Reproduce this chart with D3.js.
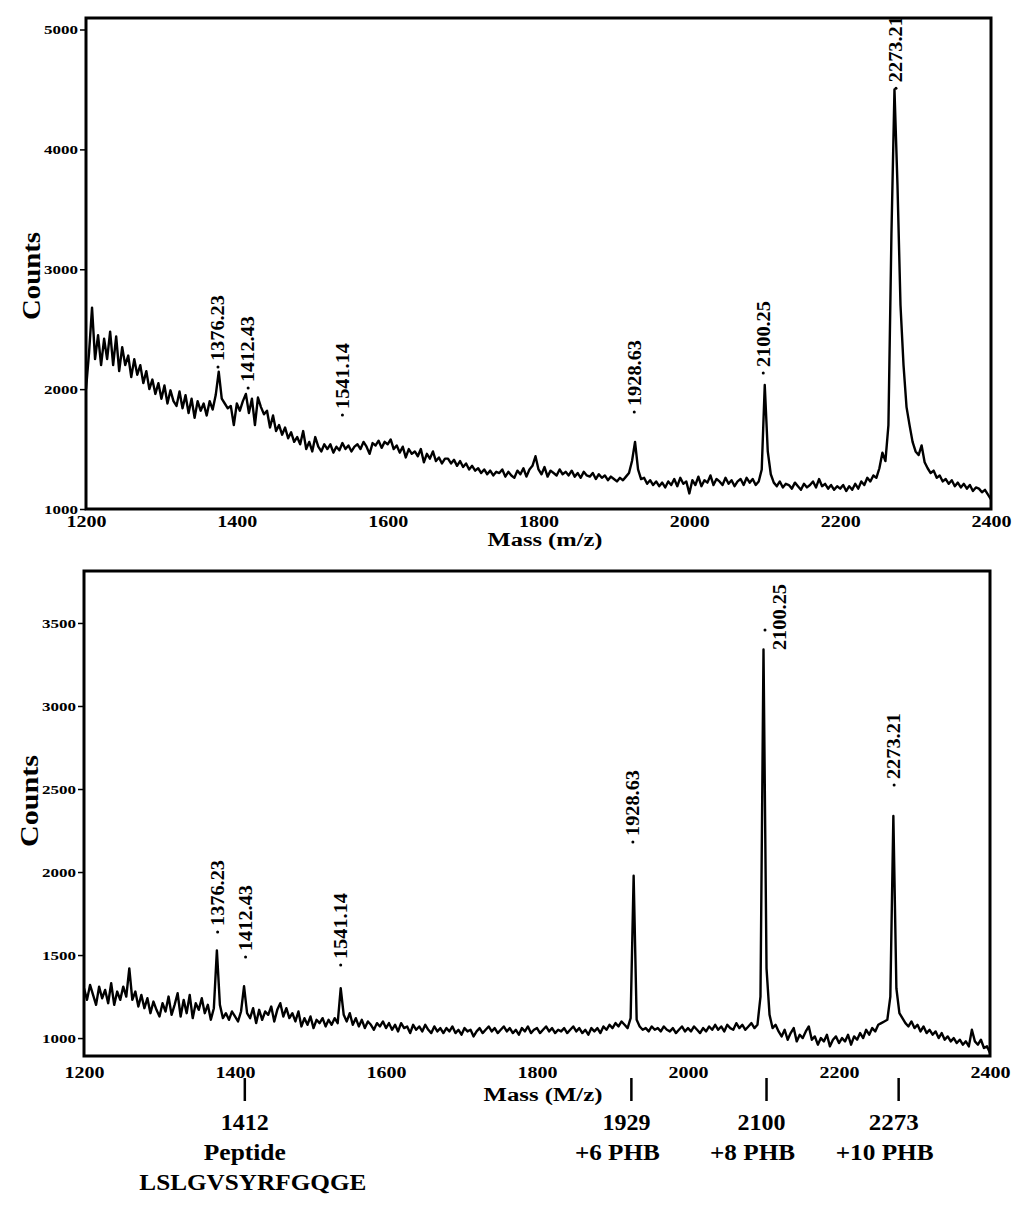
<!DOCTYPE html>
<html>
<head>
<meta charset="utf-8">
<script src="https://cdn.jsdelivr.net/npm/d3@7/dist/d3.min.js"></script>
<style>
  html, body { margin: 0; padding: 0; background: #fff; }
  svg { display: block; }
  text { font-family: "Liberation Serif", "Times New Roman", serif; font-weight: bold; fill: #000; }
</style>
</head>
<body>
<svg id="chart" width="1024" height="1213"></svg>
<script>
// ---------------- DATA ----------------
const mzStart = 1200, mzEnd = 2400, mzStep = 4;
const xTickValues = [1200, 1400, 1600, 1800, 2000, 2200, 2400];
const topYTicks = [1000, 2000, 3000, 4000, 5000];
const bottomYTicks = [1000, 1500, 2000, 2500, 3000, 3500];

// Top spectrum counts, m/z 1200..2400 every 4 (rows of 40 m/z)
const topCounts = [
  2000, 2300, 2680, 2250, 2450, 2200, 2420, 2250, 2480, 2200, // 1200
  2440, 2150, 2350, 2200, 2280, 2100, 2250, 2120, 2200, 2050, // 1240
  2150, 2000, 2080, 1960, 2050, 1920, 2030, 1880, 1990, 1900, // 1280
  1860, 1980, 1840, 1950, 1800, 1920, 1760, 1900, 1820, 1880, // 1320
  1780, 1900, 1830, 1950, 2145, 1920, 1880, 1840, 1860, 1700, // 1360
  1880, 1820, 1900, 1960, 1800, 1920, 1700, 1930, 1850, 1790, // 1400
  1820, 1680, 1780, 1650, 1700, 1620, 1680, 1590, 1640, 1560, // 1440
  1600, 1540, 1650, 1500, 1560, 1480, 1600, 1520, 1480, 1540, // 1480
  1500, 1540, 1470, 1520, 1490, 1550, 1500, 1530, 1480, 1520, // 1520
  1540, 1500, 1560, 1520, 1460, 1550, 1530, 1570, 1510, 1560, // 1560
  1540, 1580, 1500, 1530, 1470, 1520, 1430, 1500, 1460, 1480, // 1600
  1440, 1500, 1390, 1460, 1420, 1480, 1400, 1430, 1380, 1420, // 1640
  1420, 1380, 1410, 1360, 1400, 1350, 1380, 1330, 1360, 1320, // 1680
  1340, 1300, 1330, 1290, 1320, 1280, 1310, 1300, 1330, 1270, // 1720
  1310, 1280, 1260, 1320, 1290, 1340, 1270, 1330, 1360, 1440, // 1760
  1330, 1290, 1350, 1270, 1320, 1300, 1280, 1330, 1290, 1310, // 1800
  1280, 1320, 1270, 1300, 1260, 1310, 1280, 1270, 1300, 1250, // 1840
  1290, 1260, 1280, 1240, 1270, 1250, 1230, 1260, 1240, 1270, // 1880
  1300, 1400, 1560, 1330, 1250, 1260, 1210, 1240, 1200, 1230, // 1920
  1190, 1220, 1180, 1230, 1200, 1250, 1190, 1260, 1210, 1230, // 1960
  1130, 1240, 1200, 1270, 1190, 1240, 1220, 1280, 1200, 1250, // 2000
  1230, 1200, 1260, 1210, 1240, 1190, 1230, 1250, 1200, 1260, // 2040
  1220, 1250, 1200, 1230, 1330, 2035, 1480, 1290, 1220, 1190, // 2080
  1230, 1180, 1210, 1200, 1170, 1220, 1190, 1160, 1210, 1180, // 2120
  1200, 1230, 1180, 1250, 1190, 1210, 1170, 1200, 1160, 1190, // 2160
  1170, 1200, 1150, 1190, 1160, 1210, 1170, 1230, 1200, 1260, // 2200
  1230, 1280, 1260, 1340, 1470, 1400, 1700, 3300, 4500, 3700, // 2240
  2700, 2200, 1850, 1700, 1560, 1480, 1450, 1530, 1390, 1340, // 2280
  1300, 1320, 1260, 1280, 1230, 1250, 1210, 1240, 1190, 1220, // 2320
  1180, 1210, 1170, 1200, 1150, 1180, 1170, 1140, 1160, 1120, // 2360
  1080                                                        // 2400
];

// Bottom spectrum counts, m/z 1200..2400 every 4
const bottomCounts = [
  1300, 1230, 1320, 1260, 1200, 1310, 1240, 1290, 1210, 1330, // 1200
  1200, 1280, 1230, 1310, 1250, 1420, 1230, 1280, 1190, 1260, // 1240
  1180, 1240, 1150, 1220, 1170, 1130, 1210, 1160, 1250, 1140, // 1280
  1200, 1270, 1130, 1230, 1150, 1260, 1120, 1210, 1170, 1240, // 1320
  1150, 1200, 1110, 1180, 1528, 1200, 1120, 1150, 1110, 1160, // 1360
  1130, 1100, 1160, 1312, 1150, 1120, 1180, 1090, 1170, 1110, // 1400
  1160, 1140, 1190, 1100, 1170, 1210, 1130, 1180, 1120, 1150, // 1440
  1100, 1160, 1070, 1120, 1080, 1130, 1060, 1110, 1090, 1120, // 1480
  1070, 1110, 1080, 1120, 1090, 1300, 1140, 1100, 1150, 1080, // 1520
  1120, 1070, 1110, 1060, 1100, 1080, 1050, 1090, 1070, 1100, // 1560
  1060, 1090, 1050, 1080, 1040, 1090, 1060, 1070, 1030, 1080, // 1600
  1050, 1070, 1040, 1080, 1050, 1030, 1070, 1040, 1060, 1030, // 1640
  1060, 1040, 1070, 1030, 1050, 1020, 1060, 1040, 1050, 1010, // 1680
  1040, 1060, 1030, 1050, 1070, 1040, 1060, 1030, 1050, 1070, // 1720
  1040, 1060, 1030, 1050, 1020, 1060, 1040, 1070, 1030, 1050, // 1760
  1060, 1030, 1050, 1070, 1040, 1060, 1030, 1050, 1040, 1060, // 1800
  1030, 1050, 1070, 1040, 1060, 1030, 1050, 1020, 1060, 1040, // 1840
  1060, 1030, 1070, 1050, 1080, 1060, 1090, 1070, 1100, 1080, // 1880
  1060, 1120, 1978, 1110, 1070, 1050, 1060, 1040, 1070, 1050, // 1920
  1060, 1040, 1070, 1050, 1040, 1060, 1030, 1050, 1070, 1040, // 1960
  1060, 1040, 1070, 1050, 1030, 1060, 1040, 1070, 1050, 1080, // 2000
  1050, 1070, 1040, 1080, 1060, 1050, 1090, 1060, 1080, 1050, // 2040
  1070, 1090, 1060, 1080, 1250, 3340, 1420, 1140, 1060, 1080, // 2080
  1040, 1010, 1050,  990, 1030, 1060,  980, 1020, 1000, 1040, // 2120
  1070,  990, 1010,  960, 1000,  980, 1020,  950,  990, 1010, // 2160
   970, 1000,  980, 1020,  960, 1010,  990, 1030, 1000, 1050, // 2200
  1020, 1060, 1040, 1080, 1090, 1100, 1110, 1250, 2338, 1300, // 2240
  1150, 1120, 1090, 1070, 1100, 1060, 1080, 1040, 1070, 1030, // 2280
  1050, 1020, 1040, 1000, 1030,  990, 1010,  980, 1000,  970, // 2320
   990,  960,  980,  950, 1050,  980,  960,  990,  940,  950, // 2360
   910                                                        // 2400
];

// Peak labels: text, m/z of label text, counts level of the label text's lower end,
// and position (m/z, counts) of the label's dot
const topLabelText   = ["1376.23", "1412.43", "1541.14", "1928.63", "2100.25", "2273.21"];
const topLabelMz     = [1375, 1415, 1540, 1927, 2098, 2274];
const topLabelLevel  = [2234, 2059, 1834, 1859, 2184, 4561];
const topDotMz       = [1375, 1415, 1540, 1927, 2098, 2274];
const topDotLevel    = [2184, 2009, 1784, 1809, 2134, 4511];

const bottomLabelText  = ["1376.23", "1412.43", "1541.14", "1928.63", "2100.25", "2273.21"];
const bottomLabelMz    = [1377, 1414, 1540, 1927, 2122, 2273];
const bottomLabelLevel = [1675, 1524, 1476, 2217, 3337, 2560];
const bottomDotMz      = [1377, 1414, 1540, 1927, 2102, 2273];
const bottomDotLevel   = [1639, 1488, 1440, 2181, 3458, 2524];

// Annotation marks below bottom axis
const markMz    = [1413, 1925, 2104, 2279];
const markLine1 = ["1412", "1929", "2100", "2273"];
const markLine2 = ["Peptide", "+6 PHB", "+8 PHB", "+10 PHB"];
const markLine3 = ["LSLGVSYRFGQGE", "", "", ""];

// ---------------- DRAW ----------------
const svg = d3.select("#chart");
const mz = d3.range(mzStart, mzEnd + 1, mzStep);

function panel(cfg) {
  const g = svg.append("g");
  const x = d3.scaleLinear().domain([mzStart, mzEnd]).range([cfg.left, cfg.right]);
  const y = d3.scaleLinear().domain(cfg.yDomain).range([cfg.bottom, cfg.top]);

  const clipId = "clip" + cfg.id;
  svg.append("clipPath").attr("id", clipId)
    .append("rect").attr("x", cfg.left).attr("y", cfg.top)
    .attr("width", cfg.right - cfg.left).attr("height", cfg.bottom - cfg.top);

  // spectrum
  const line = d3.line().x((d, i) => x(mz[i])).y(d => y(d));
  g.append("path")
    .datum(cfg.counts)
    .attr("clip-path", `url(#${clipId})`)
    .attr("d", line)
    .attr("fill", "none")
    .attr("stroke", "#000")
    .attr("stroke-width", 2.4)
    .attr("stroke-linejoin", "round");

  // frame
  g.append("rect")
    .attr("x", cfg.left).attr("y", cfg.top)
    .attr("width", cfg.right - cfg.left).attr("height", cfg.bottom - cfg.top)
    .attr("fill", "none").attr("stroke", "#000").attr("stroke-width", 3);

  // y axis
  const ya = g.append("g").attr("transform", `translate(${cfg.left},0)`)
    .call(d3.axisLeft(y).tickValues(cfg.yTicks).tickSize(6).tickPadding(2).tickFormat(d3.format("d")));
  ya.select(".domain").remove();
  ya.selectAll("line").attr("stroke", "#000").attr("stroke-width", 1.5);
  ya.selectAll("text")
    .style("font-size", "13px")
    .attr("textLength", 34).attr("lengthAdjust", "spacingAndGlyphs");

  // x axis
  const xa = g.append("g").attr("transform", `translate(0,${cfg.bottom})`)
    .call(d3.axisBottom(x).tickValues(xTickValues).tickSize(0).tickPadding(cfg.xPad).tickFormat(d3.format("d")));
  xa.select(".domain").remove();
  xa.selectAll("text")
    .style("font-size", "17px")
    .attr("textLength", 40).attr("lengthAdjust", "spacingAndGlyphs");

  // axis titles
  g.append("text")
    .attr("transform", `translate(${cfg.countsX},${cfg.countsY}) rotate(-90)`)
    .attr("text-anchor", "middle").attr("dy", "0.35em")
    .style("font-size", "26px")
    .attr("textLength", cfg.countsLen).attr("lengthAdjust", "spacingAndGlyphs")
    .text("Counts");
  g.append("text")
    .attr("x", cfg.massX).attr("y", cfg.massY)
    .attr("text-anchor", "middle")
    .style("font-size", "18px")
    .attr("textLength", cfg.massLen).attr("lengthAdjust", "spacingAndGlyphs")
    .text(cfg.massTitle);

  // peak labels
  cfg.labelText.forEach((t, i) => {
    g.append("circle")
      .attr("cx", x(cfg.dotMz[i])).attr("cy", y(cfg.dotLevel[i]))
      .attr("r", 1.5).attr("fill", "#000");
    g.append("text")
      .attr("transform", `translate(${x(cfg.labelMz[i])},${y(cfg.labelLevel[i])}) rotate(-90)`)
      .attr("text-anchor", "start").attr("dy", "0.35em")
      .style("font-size", "18px")
      .attr("textLength", 66).attr("lengthAdjust", "spacingAndGlyphs")
      .text(t);
  });
  return { x, y, g };
}

const topP = panel({
  id: "T", left: 86, right: 991, top: 18, bottom: 509,
  yDomain: [1000, 5096], yTicks: topYTicks, counts: topCounts, xPad: 6,
  countsX: 31, countsY: 276, countsLen: 88,
  massX: 545, massY: 546, massLen: 115, massTitle: "Mass (m/z)",
  labelText: topLabelText, labelMz: topLabelMz, labelLevel: topLabelLevel,
  dotMz: topDotMz, dotLevel: topDotLevel
});

const botP = panel({
  id: "B", left: 84, right: 990, top: 571, bottom: 1056,
  yDomain: [892, 3813], yTicks: bottomYTicks, counts: bottomCounts, xPad: 10,
  countsX: 29, countsY: 801, countsLen: 92,
  massX: 543, massY: 1101, massLen: 119, massTitle: "Mass (M/z)",
  labelText: bottomLabelText, labelMz: bottomLabelMz, labelLevel: bottomLabelLevel,
  dotMz: bottomDotMz, dotLevel: bottomDotLevel
});

// annotation marks below bottom axis
const ann = svg.append("g");
const lineLens = [[48, 82, 227], [48, 85, 0], [48, 85, 0], [50, 98, 0]];
markMz.forEach((m, i) => {
  const mx = botP.x(m);
  ann.append("line").attr("x1", mx).attr("x2", mx).attr("y1", 1078).attr("y2", 1101)
    .attr("stroke", "#000").attr("stroke-width", 2.5);
  const lines = [markLine1[i], markLine2[i], markLine3[i]];
  const dxs = [i === 0 ? 0 : -5, i === 0 ? 0 : -14, 8];
  lines.forEach((t, k) => {
    if (!t) return;
    ann.append("text")
      .attr("x", mx + dxs[k]).attr("y", 1130 + k * 30)
      .attr("text-anchor", "middle")
      .style("font-size", "24px")
      .attr("textLength", lineLens[i][k]).attr("lengthAdjust", "spacingAndGlyphs")
      .text(t);
  });
});
</script>
</body>
</html>
